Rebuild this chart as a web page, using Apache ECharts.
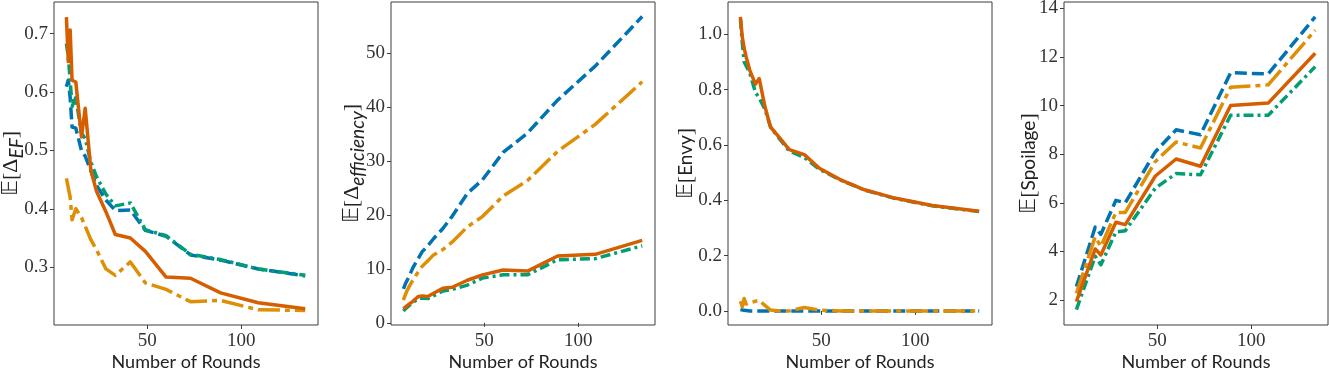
<!DOCTYPE html>
<html>
<head>
<meta charset="utf-8">
<script src="https://cdn.jsdelivr.net/npm/echarts@6/dist/echarts.min.js"></script>
<style>
  html, body { margin: 0; padding: 0; background: #fff; }
  #chart { width: 1329px; height: 371px; }
</style>
</head>
<body>
<div id="chart"></div>
<script>
// x values (number of rounds) used by the first three panels
var rounds = [7, 8, 9, 10, 12, 15, 17, 20, 23, 28, 33, 41, 49, 60, 73, 89, 109, 134];
// the spoilage panel only shows kinks at these rounds
var roundsSpoil = [7, 17, 20, 28, 33, 49, 60, 73, 89, 109, 134];

// panel 1: E[Delta_EF]
var efBlue = [0.609, 0.62, 0.59, 0.54, 0.538, 0.50, 0.49, 0.465, 0.44, 0.415, 0.397, 0.398, 0.363, 0.353, 0.321, 0.312, 0.297, 0.285];
var efOrange = [0.452, 0.45, 0.42, 0.381, 0.40, 0.385, 0.37, 0.347, 0.33, 0.297, 0.286, 0.309, 0.273, 0.262, 0.241, 0.243, 0.227, 0.226];
var efGreen = [0.683, 0.66, 0.62, 0.575, 0.59, 0.53, 0.52, 0.48, 0.455, 0.425, 0.405, 0.41, 0.364, 0.354, 0.322, 0.313, 0.297, 0.286];
var efRed = [0.728, 0.652, 0.706, 0.62, 0.617, 0.523, 0.572, 0.466, 0.43, 0.395, 0.356, 0.35, 0.327, 0.283, 0.281, 0.256, 0.239, 0.229];

// panel 2: E[Delta_efficiency]
var effBlue = [6.3, 7.2, 7.9, 8.6, 10.2, 12, 13.2, 14.3, 15.6, 17.5, 19.8, 24, 26.5, 31.6, 35.2, 41.3, 47.6, 56.8];
var effOrange = [4.2, 5.2, 6.0, 6.7, 7.9, 9.5, 10.5, 11.5, 12.6, 13.6, 15.0, 17.8, 19.7, 23.5, 26.4, 31.8, 36.8, 44.7];
var effGreen = [2.2, 2.6, 2.9, 3.2, 3.8, 4.5, 4.6, 4.5, 5.0, 5.9, 6.2, 7.0, 8.3, 8.9, 8.9, 11.7, 11.9, 14.3];
var effRed = [2.6, 2.9, 3.2, 3.5, 4.0, 4.9, 5.0, 4.9, 5.5, 6.4, 6.6, 7.9, 8.9, 9.8, 9.6, 12.4, 12.7, 15.3];

// panel 3: E[Envy]
var envyBlue = [0.005, 0.003, 0.002, 0.001, 0, 0, 0, 0, 0, 0, 0, 0, 0, 0, 0, 0, 0, 0];
var envyOrange = [0.035, 0.015, 0.045, 0.025, 0.03, 0.035, 0.038, 0.02, 0.003, 0, 0, 0.012, 0.003, 0, 0, 0, 0, 0];
var envyGreen = [1.055, 0.97, 0.9, 0.895, 0.86, 0.79, 0.77, 0.73, 0.665, 0.62, 0.578, 0.555, 0.512, 0.474, 0.437, 0.407, 0.38, 0.359];
var envyRed = [1.063, 0.99, 0.95, 0.92, 0.87, 0.82, 0.84, 0.74, 0.665, 0.625, 0.583, 0.565, 0.516, 0.475, 0.438, 0.408, 0.381, 0.36];

// panel 4: E[Spoilage]
var spBlue = [2.55, 5.0, 4.7, 6.1, 6.0, 8.1, 9.0, 8.8, 11.35, 11.3, 13.65];
var spOrange = [2.27, 4.6, 4.2, 5.6, 5.6, 7.7, 8.5, 8.25, 10.75, 10.85, 13.1];
var spGreen = [1.6, 3.8, 3.45, 4.8, 4.85, 6.6, 7.2, 7.15, 9.6, 9.6, 11.6];
var spRed = [1.93, 4.1, 3.85, 5.2, 5.1, 7.1, 7.8, 7.5, 10.0, 10.1, 12.15];

// tick labels
var xTicks = [50, 100];
var efTicks = [0.3, 0.4, 0.5, 0.6, 0.7];
var effTicks = [0, 10, 20, 30, 40, 50];
var envyTicks = [0, 0.2, 0.4, 0.6, 0.8, 1.0];
var spTicks = [2, 4, 6, 8, 10, 12, 14];

var colors = ['#0173b2', '#de8f05', '#029e73', '#d55e00'];
var dashes = [[12, 5], [22, 5, 5, 5], [10, 4, 3, 4], 'solid'];
var serif = 'Liberation Serif';
var sans = 'Lato';
var ink = '#3c3c3c';

var panels = [
    { left: 54, yMin: 0.201, yMax: 0.754, ticks: efTicks, dec: 1, gap: 28,
      name: '{m|𝔼[Δ}{s|EF}{m|]}', x: rounds, data: [efBlue, efOrange, efGreen, efRed] },
    { left: 391, yMin: -0.4, yMax: 59.5, ticks: effTicks, dec: 0, gap: 24,
      name: '{m|𝔼[Δ}{s|efficiency}{m|]}', x: rounds, data: [effBlue, effOrange, effGreen, effRed] },
    { left: 728, yMin: -0.051, yMax: 1.117, ticks: envyTicks, dec: 1, gap: 31,
      name: '{m|𝔼[}{t|Envy}{m|]}', x: rounds, data: [envyBlue, envyOrange, envyGreen, envyRed] },
    { left: 1064, yMin: 0.97, yMax: 14.26, ticks: spTicks, dec: 0, gap: 24,
      name: '{m|𝔼[}{t|Spoilage}{m|]}', x: roundsSpoil, data: [spBlue, spOrange, spGreen, spRed] }
];

var nameRich = {
    m: { fontFamily: serif, fontSize: 22, color: '#222' },
    s: { fontFamily: sans, fontStyle: 'italic', fontSize: 19, color: '#222', padding: [11, 0, 0, 0] },
    t: { fontFamily: sans, fontSize: 19, color: '#222' }
};

var grid = [], xAxis = [], yAxis = [], series = [];

panels.forEach(function (p, i) {
    grid.push({
        left: p.left, top: 2, width: 264, height: 323, outerBoundsMode: 'none',
        show: true, borderColor: ink, borderWidth: 1, backgroundColor: 'transparent'
    });
    xAxis.push({
        type: 'value', gridIndex: i, min: 0.4, max: 140.8,
        name: 'Number of Rounds', nameLocation: 'middle', nameGap: 28, nameMoveOverlap: false,
        nameTextStyle: { fontFamily: sans, fontSize: 18, color: '#222' },
        axisLine: { show: false },
        axisTick: { show: true, length: 4, lineStyle: { color: ink }, customValues: xTicks },
        axisLabel: { fontFamily: serif, fontSize: 19, color: '#333', margin: 7, customValues: xTicks },
        splitLine: { show: false }
    });
    yAxis.push({
        type: 'value', gridIndex: i, min: p.yMin, max: p.yMax,
        name: p.name, nameLocation: 'middle', nameRotate: 90, nameGap: p.gap, nameMoveOverlap: false,
        nameTextStyle: { rich: nameRich },
        axisLine: { show: false },
        axisTick: { show: true, length: 4, lineStyle: { color: ink }, customValues: p.ticks },
        axisLabel: {
            fontFamily: serif, fontSize: 19, color: '#333', margin: 6, customValues: p.ticks,
            formatter: function (v) { return v.toFixed(p.dec); }
        },
        splitLine: { show: false }
    });
    p.data.forEach(function (vals, k) {
        series.push({
            type: 'line', xAxisIndex: i, yAxisIndex: i,
            data: vals.map(function (v, j) { return [p.x[j], v]; }),
            showSymbol: false, symbol: 'none', z: 2 + k,
            lineStyle: { color: colors[k], width: 3.5, type: dashes[k], cap: 'butt', join: 'round' }
        });
    });
});

var myChart = echarts.init(document.getElementById('chart'));
myChart.setOption({
    animation: false,
    grid: grid,
    xAxis: xAxis,
    yAxis: yAxis,
    series: series
});
</script>
</body>
</html>
